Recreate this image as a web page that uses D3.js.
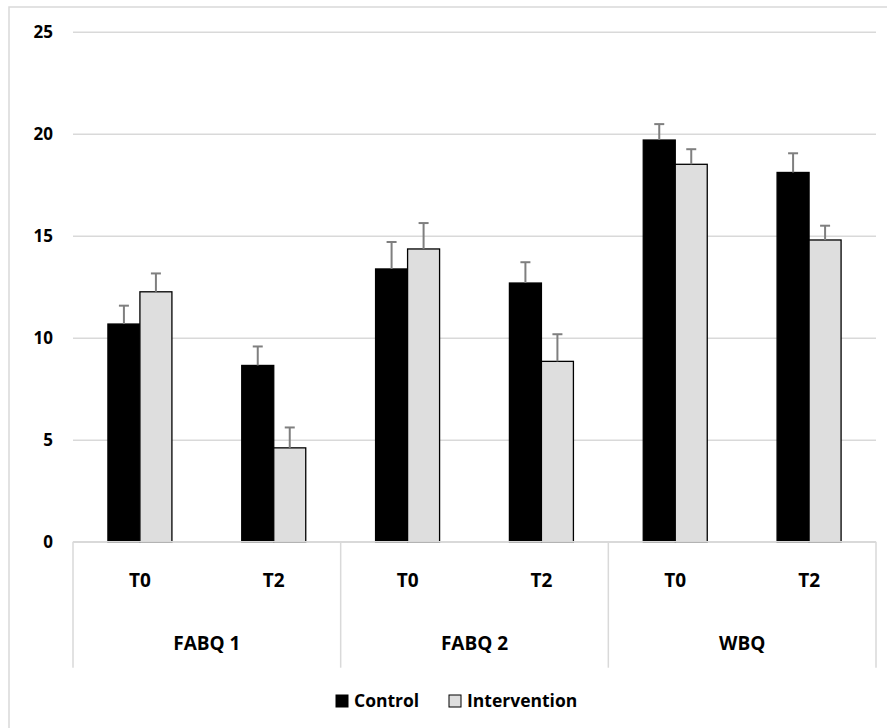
<html>
<head>
<meta charset="utf-8">
<style>
  body { margin: 0; background: #fff; }
  text { font-family: "Open Sans", sans-serif; font-weight: bold; fill: #000; }
  .grid line { stroke: #d9d9d9; stroke-width: 1.5px; }
  .grid .domain { display: none; }
  .err { stroke: #7f7f7f; stroke-width: 2px; fill: none; }
</style>
</head>
<body>
<script src="https://cdn.jsdelivr.net/npm/d3@7"></script>
<script>
// data
var groups = ["FABQ 1", "FABQ 2", "WBQ"];
var times = ["T0", "T2"];
var series = ["Control", "Intervention"];
var control = [10.67, 8.64, 13.37, 12.68, 19.69, 18.1];
var controlErr = [0.9, 0.93, 1.32, 1.02, 0.78, 0.94];
var intervention = [12.25, 4.6, 14.35, 8.84, 18.5, 14.79];
var interventionErr = [0.9, 1.0, 1.27, 1.33, 0.74, 0.7];
var yTicks = [0, 5, 10, 15, 20, 25];

var colors = { Control: "#000000", Intervention: "#dedede" };

var svg = d3.select("body").append("svg")
    .attr("width", 887)
    .attr("height", 728);

// outer frame
svg.append("rect")
    .attr("x", 9).attr("y", 7)
    .attr("width", 900).attr("height", 740)
    .attr("fill", "none")
    .attr("stroke", "#d9d9d9")
    .attr("stroke-width", 1.5);

var margin = { left: 73, right: 11, top: 31.7, bottom: 186.3 };
var width = 887 - margin.left - margin.right,
    height = 728 - margin.top - margin.bottom;

var g = svg.append("g")
    .attr("transform", "translate(" + margin.left + "," + margin.top + ")");

// build rows: one per group/time pair
var rows = [];
groups.forEach(function(grp, gi) {
  times.forEach(function(t, ti) {
    var i = gi * times.length + ti;
    rows.push({
      key: grp + "|" + t, group: grp, time: t,
      values: [
        { series: "Control", value: control[i], err: controlErr[i] },
        { series: "Intervention", value: intervention[i], err: interventionErr[i] }
      ]
    });
  });
});

var x0 = d3.scaleBand()
    .domain(rows.map(function(d) { return d.key; }))
    .range([0, width]);

var barW = 32;
var x1 = d3.scaleBand()
    .domain(series)
    .range([x0.bandwidth() / 2 - barW, x0.bandwidth() / 2 + barW]);

var y = d3.scaleLinear()
    .domain([0, 25])
    .range([height, 0]);

// gridlines + y labels
var yAxis = g.append("g")
    .attr("class", "grid")
    .call(d3.axisLeft(y).tickValues(yTicks).tickSize(-width).tickPadding(20));
yAxis.selectAll("text")
    .style("font-size", "17px")
    .attr("fill", "#000");

// bars
var cat = g.selectAll(".cat")
    .data(rows)
    .enter().append("g")
    .attr("class", "cat")
    .attr("transform", function(d) { return "translate(" + x0(d.key) + ",0)"; });

cat.selectAll("rect")
    .data(function(d) { return d.values; })
    .enter().append("rect")
    .attr("x", function(d) { return x1(d.series); })
    .attr("y", function(d) { return y(d.value); })
    .attr("width", x1.bandwidth())
    .attr("height", function(d) { return height - y(d.value); })
    .attr("fill", function(d) { return colors[d.series]; })
    .attr("stroke", "#000")
    .attr("stroke-width", 1.3);

// error bars (upper only)
var err = cat.selectAll(".errbar")
    .data(function(d) { return d.values; })
    .enter().append("g")
    .attr("class", "err");

err.append("line")
    .attr("x1", function(d) { return x1(d.series) + x1.bandwidth() / 2; })
    .attr("x2", function(d) { return x1(d.series) + x1.bandwidth() / 2; })
    .attr("y1", function(d) { return y(d.value); })
    .attr("y2", function(d) { return y(d.value + d.err); });

err.append("line")
    .attr("x1", function(d) { return x1(d.series) + x1.bandwidth() / 2 - 5; })
    .attr("x2", function(d) { return x1(d.series) + x1.bandwidth() / 2 + 5; })
    .attr("y1", function(d) { return y(d.value + d.err); })
    .attr("y2", function(d) { return y(d.value + d.err); });

// category axis: baseline, dividers, labels
var axisDepth = 126;
g.append("line")
    .attr("x1", 0).attr("x2", width)
    .attr("y1", height).attr("y2", height)
    .attr("stroke", "#d9d9d9").attr("stroke-width", 1.5);

var groupW = x0.step() * times.length;
d3.range(groups.length + 1).forEach(function(i) {
  g.append("line")
    .attr("x1", i * groupW).attr("x2", i * groupW)
    .attr("y1", height).attr("y2", height + axisDepth)
    .attr("stroke", "#d9d9d9").attr("stroke-width", 1.5);
});

g.selectAll(".timeLabel")
    .data(rows)
    .enter().append("text")
    .attr("x", function(d) { return x0(d.key) + x0.bandwidth() / 2; })
    .attr("y", height + 45)
    .attr("text-anchor", "middle")
    .style("font-size", "19px")
    .text(function(d) { return d.time; });

g.selectAll(".groupLabel")
    .data(groups)
    .enter().append("text")
    .attr("x", function(d, i) { return i * groupW + groupW / 2; })
    .attr("y", height + 108)
    .attr("text-anchor", "middle")
    .style("font-size", "19px")
    .text(function(d) { return d; });

// legend
var legendX = [336, 449];
var legend = svg.selectAll(".legend")
    .data(series)
    .enter().append("g")
    .attr("transform", function(d, i) { return "translate(" + legendX[i] + ",695)"; });

legend.append("rect")
    .attr("width", 12).attr("height", 12)
    .attr("fill", function(d) { return colors[d]; })
    .attr("stroke", "#000")
    .attr("stroke-width", 1);

legend.append("text")
    .attr("x", 18)
    .attr("y", 12)
    .style("font-size", "17.5px")
    .text(function(d) { return d; });
</script>
</body>
</html>
